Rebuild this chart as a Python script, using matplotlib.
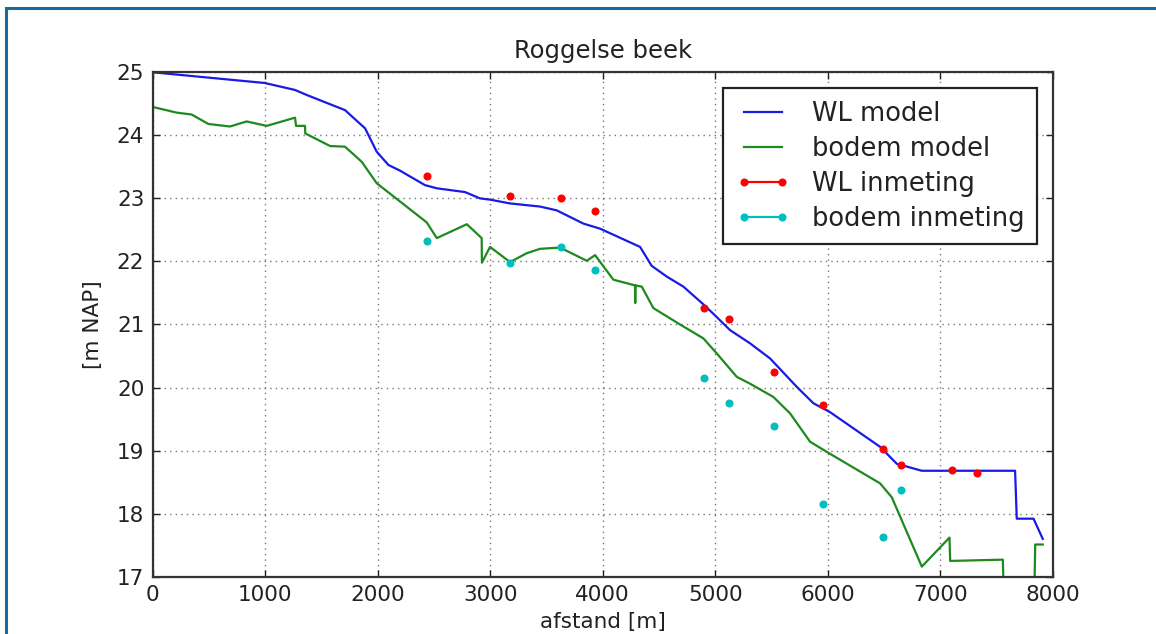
import matplotlib
matplotlib.use("Agg")
import matplotlib.pyplot as plt
from matplotlib.lines import Line2D
from matplotlib.patches import Rectangle

# WL model (waterlevel along the stream)
wl_x = [0, 996, 1264, 1369, 1709, 1888, 1991, 2095, 2198, 2420, 2525, 2776,
        2909, 2998, 3176, 3443, 3591, 3828, 3976, 4332, 4435, 4569, 4717,
        4894, 4983, 5132, 5310, 5488, 5725, 5873, 6020, 6465, 6614, 6836,
        7665, 7680, 7829, 7911]
wl_y = [25.0, 24.83, 24.72, 24.64, 24.40, 24.11, 23.74, 23.53, 23.44, 23.21,
        23.16, 23.10, 23.00, 22.98, 22.92, 22.87, 22.81, 22.60, 22.52, 22.23,
        21.93, 21.76, 21.60, 21.32, 21.17, 20.91, 20.70, 20.46, 20.01, 19.75,
        19.61, 19.06, 18.79, 18.68, 18.68, 17.92, 17.92, 17.60]

# bodem model (bed level)
bodem_x = [0, 213, 346, 495, 687, 835, 1013, 1265, 1274, 1345, 1354, 1356,
           1577, 1709, 1858, 1991, 2435, 2525, 2792, 2924, 2926, 2998, 3176,
           3324, 3443, 3621, 3858, 3932, 4095, 4287, 4289, 4291, 4347, 4450,
           4687, 4894, 5014, 5191, 5310, 5517, 5665, 5843, 5991, 6465, 6569,
           6836, 7082, 7088, 7556, 7568, 7834, 7844, 7911]
bodem_y = [24.45, 24.36, 24.33, 24.18, 24.14, 24.22, 24.15, 24.28, 24.15,
           24.15, 24.15, 24.03, 23.83, 23.82, 23.58, 23.24, 22.62, 22.37,
           22.59, 22.37, 21.98, 22.23, 21.99, 22.13, 22.20, 22.22, 22.01,
           22.10, 21.71, 21.62, 21.34, 21.62, 21.60, 21.26, 21.00, 20.78,
           20.54, 20.17, 20.06, 19.85, 19.59, 19.14, 18.98, 18.48, 18.26,
           17.16, 17.62, 17.25, 17.27, 16.5, 16.5, 17.51, 17.51]

# inmetingen (measurements)
meas_x = [2435, 3179, 3627, 3929, 4902, 5120, 5523, 5956, 6489, 6650, 7107, 7328]
wl_meas = [23.35, 23.03, 23.00, 22.80, 21.26, 21.08, 20.25, 19.72, 19.03,
           18.77, 18.69, 18.65]
bodem_meas = [22.33, 21.98, 22.23, 21.86, 20.15, 19.75, 19.39, 18.15, 17.63,
              18.37]

labels = ["WL model", "bodem model", "WL inmeting", "bodem inmeting"]

fig = plt.figure(figsize=(11.56, 6.34), dpi=100)
ax = fig.add_axes([0.1321, 0.0904, 0.7786, 0.7956])

ax.plot(wl_x, wl_y, color="#1a1ae6", lw=1.6)
ax.plot(bodem_x, bodem_y, color="#1e8a1e", lw=1.6)
ax.plot(meas_x, wl_meas, "o", color="r", ms=4.8, mec="r")
ax.plot(meas_x[:len(bodem_meas)], bodem_meas, "o", color="c", ms=4.8, mec="c")

ax.set_xlim(0, 8000)
ax.set_ylim(17, 25)
ax.set_xticks(range(0, 8001, 1000))
ax.set_yticks(range(17, 26))
ax.grid(True, color="#555555", linestyle=(0, (1, 3)), linewidth=1.0, alpha=0.8)
ax.tick_params(direction="in", top=True, right=True, length=5, width=1,
               labelsize=15.5, pad=6, colors="#222222")
for s in ax.spines.values():
    s.set_linewidth(1.6)
    s.set_color("#333333")

ax.set_title("Roggelse beek", fontsize=17.5, pad=10, color="#222222")
ax.set_xlabel("afstand [m]", fontsize=15.5, labelpad=5, color="#222222")
ax.set_ylabel("[m NAP]", fontsize=15.5, labelpad=10, color="#222222")

handles = [
    Line2D([], [], color="#1a1ae6", lw=1.6),
    Line2D([], [], color="#1e8a1e", lw=1.6),
    Line2D([], [], color="r", lw=1.6, marker="o", ms=4.8, mec="r"),
    Line2D([], [], color="c", lw=1.6, marker="o", ms=4.8, mec="c"),
]
leg = ax.legend(handles, labels, loc="upper right", fontsize=18.5,
                numpoints=2, fancybox=False, framealpha=1,
                borderaxespad=0.6, handlelength=2.1, handletextpad=0.85,
                labelspacing=0.35, borderpad=0.5)
leg.get_frame().set_edgecolor("#222222")
leg.get_frame().set_linewidth(1.6)
for t in leg.get_texts():
    t.set_color("#222222")

# blue frame around the whole picture
fig.patches.append(Rectangle((6 / 1156, -0.05), 1.2, 1 - 8 / 634 + 0.05,
                             transform=fig.transFigure, fill=False,
                             edgecolor="#1b6a9c", lw=2.2))

fig.savefig("out.png", dpi=100)
